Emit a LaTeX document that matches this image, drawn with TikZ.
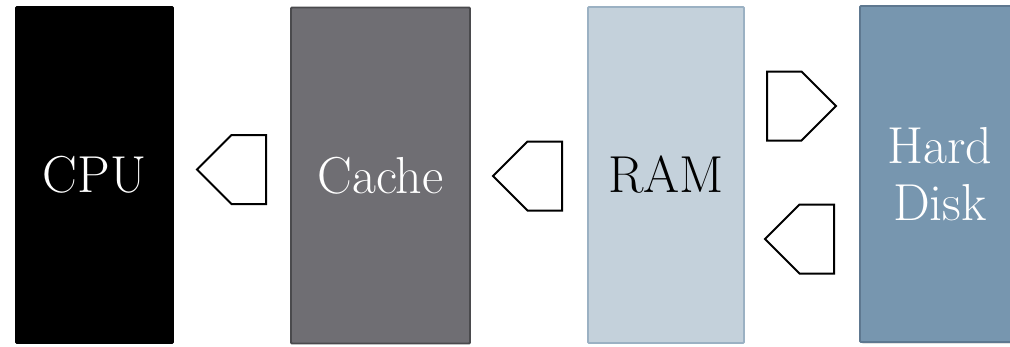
\documentclass[tikz,border=0pt]{standalone}
\usepackage{fontspec}
\usetikzlibrary{shapes.arrows,shadows}
\definecolor{cachegray}{HTML}{6F6E73}
\definecolor{cacheedge}{HTML}{4A4A4D}
\definecolor{ramblue}{HTML}{C4D1DB}
\definecolor{ramedge}{HTML}{9BB1C3}
\definecolor{diskblue}{HTML}{7796AF}
\definecolor{diskedge}{HTML}{5E7890}
\tikzset{mem box/.style={rectangle,draw,line width=1.8pt,minimum height=336pt,inner sep=0pt,
                         font=\fontsize{52}{57}\selectfont,align=center,rounded corners=1pt},
         flow arrow/.style={single arrow,draw=black,fill=white,line width=2pt,inner sep=0pt,
                            single arrow head extend=0pt,single arrow tip angle=90,
                            minimum height=69pt,minimum width=69pt,anchor=tail},
         to left/.style={shape border rotate=180},
}

\begin{document}
\begin{tikzpicture}[x=1pt,y=-1pt]
\useasboundingbox (0,0) rectangle (1010,346);
\node[mem box,fill=black,draw=black,text=white,minimum width=157pt] (cpu) at (94.5,175) {CPU};
\node[mem box,fill=cachegray,draw=cacheedge,text=white,minimum width=179pt] (cache) at (380.5,175.5) {Cache};
\node[mem box,fill=ramblue,draw=ramedge,text=black,minimum width=156pt] (ram) at (666,175) {RAM};
\node[mem box,fill=diskblue,draw=diskedge,text=white,minimum width=160pt,
      drop shadow={opacity=0.35,shadow xshift=1.5pt,shadow yshift=-1.5pt}] (disk) at (940,174) {Hard\\Disk};
% block arrows between the boxes
\node[flow arrow,to left] (a1) at (267,169.5) {};
\node[flow arrow,to left] (a2) at (563,176) {};
\node[flow arrow] (a3) at (766,106) {};
\node[flow arrow,to left] (a4) at (835,239) {};
\end{tikzpicture}
\end{document}
